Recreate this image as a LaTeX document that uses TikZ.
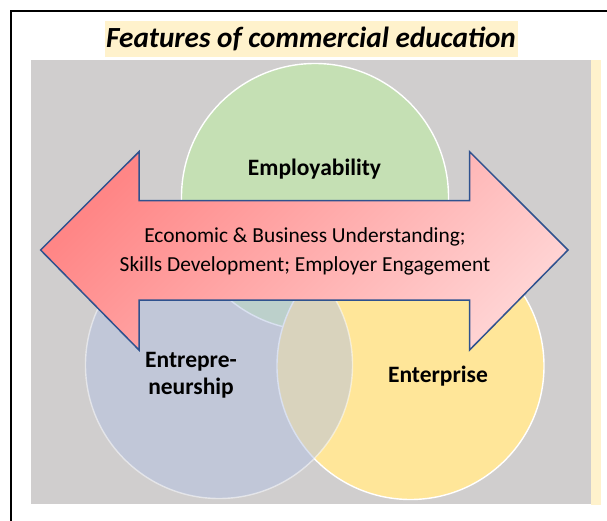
\documentclass[tikz,border=0pt]{standalone}
\usepackage{fontspec}
\setmainfont{Carlito}
\usepackage{xcolor}
\usetikzlibrary{positioning,calc,shapes}

\definecolor{panelgray}{RGB}{208,206,206}
\definecolor{notecream}{RGB}{255,242,204}
\definecolor{empgreen}{RGB}{197,224,180}
\definecolor{entblue}{RGB}{180,194,226}
\definecolor{entyellow}{RGB}{255,230,153}
\definecolor{arrowdark}{RGB}{255,134,134}
\definecolor{arrowlight}{RGB}{255,210,210}
\definecolor{arrowline}{RGB}{47,82,143}

\tikzset{
    venn/.style={circle, minimum size=267pt, inner sep=0pt, draw=white, line width=1.4pt},
    lbl/.style={font=\fontsize{23.5}{26.5}\selectfont\bfseries, align=center},
    bandtext/.style={font=\fontsize{21.4}{29}\selectfont, align=center},
}

\begin{document}
\begin{tikzpicture}[x=1pt,y=-1pt]
    \useasboundingbox (0,0) rectangle (607,521);
    \fill[white] (0,0) rectangle (607,521);
    \draw[line width=2pt] (11,521) -- (11,11) -- (607,11);

    % panel and title
    \fill[panelgray] (31,60) rectangle (591,504);
    \fill[notecream] (591,60) rectangle (601,505);
    \node[fill=notecream, minimum width=413pt, minimum height=36pt, inner sep=0pt,
          font=\fontsize{29.2}{32}\selectfont\bfseries\itshape] (title) at (311,39) {Features of commercial education};

    % the three circles
    \node[venn, fill=empgreen] (emp) at (315,197) {};
    \node[venn, fill=entyellow] (ent) at (410.5,366) {};
    \node[venn, fill=entblue, opacity=0.5] (entp) at (219,365) {};

    \node[lbl] (empl) at (314.5,169) {Employability};
    \node[lbl] (entpl) at (191,375) {Entrepre-\\neurship};
    \node[lbl] (entl) at (438,376) {Enterprise};

    % double arrow across the middle
    \draw[arrowline, line width=1.5pt, left color=arrowdark, right color=arrowlight, shading angle=45]
        (40.6,250) -- (139,151.7) -- (139,200.7) -- (469.6,200.7) -- (469.6,151.7) -- (568,250)
        -- (469.6,350) -- (469.6,300) -- (139,300) -- (139,350) -- cycle;
    \node[bandtext] (band) at (305,251) {Economic \& Business Understanding;\\Skills Development; Employer Engagement};
\end{tikzpicture}
\end{document}
